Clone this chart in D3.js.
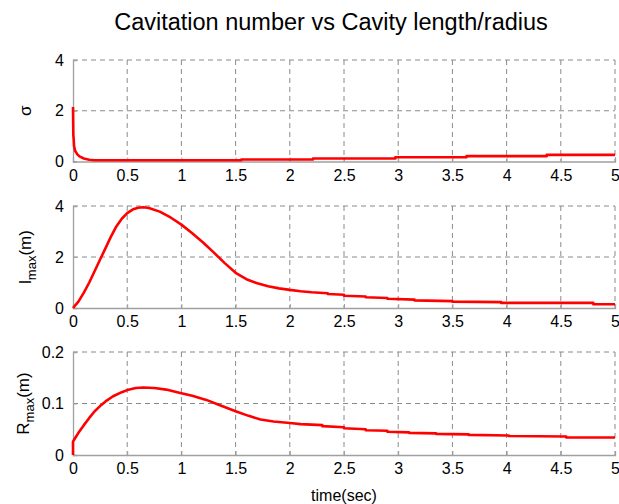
<!DOCTYPE html>
<html>
<head>
<meta charset="utf-8">
<script src="https://cdn.jsdelivr.net/npm/d3@7"></script>
<style>
  body { margin: 0; background: #fff; }
  svg { display: block; font-family: "Liberation Sans", Arial, Helvetica, sans-serif; }
</style>
</head>
<body>
<svg id="chart" width="619" height="504"></svg>
<script>
// Simulation time samples and results (stair steps repeat a time value)
const sigmaTime  = [0, 0.003, 0.006, 0.01, 0.02, 0.04, 0.06, 0.1, 0.15, 0.2, 1.553, 1.553, 2.214, 2.214, 2.974, 2.974, 3.63, 3.63, 4.37, 4.37, 5];
const sigmaValue = [2.15, 1.05, 0.9, 0.6, 0.42, 0.28, 0.2, 0.12, 0.07, 0.05, 0.05, 0.08, 0.08, 0.12, 0.12, 0.17, 0.17, 0.21, 0.21, 0.26, 0.26];

const lmaxTime  = [0, 0.05, 0.1, 0.15, 0.2, 0.25, 0.3, 0.35, 0.4, 0.45, 0.5, 0.55, 0.6, 0.65, 0.7, 0.8, 0.9, 1.0, 1.1, 1.2, 1.3, 1.4, 1.5, 1.6, 1.7, 1.8, 1.9, 2.0, 2.1, 2.2,
                   2.2, 2.35, 2.35, 2.5, 2.5, 2.7, 2.7, 2.9, 2.9, 3.15, 3.15, 3.5, 3.5, 3.95, 3.95, 4.8, 4.8, 5];
const lmaxValue = [0, 0.25, 0.6, 1.0, 1.45, 1.9, 2.35, 2.8, 3.2, 3.5, 3.72, 3.86, 3.93, 3.95, 3.92, 3.78, 3.55, 3.27, 2.93, 2.57, 2.17, 1.76, 1.38, 1.13, 0.97, 0.85, 0.77, 0.71, 0.66, 0.62,
                   0.62, 0.58, 0.55, 0.52, 0.48, 0.45, 0.42, 0.39, 0.36, 0.33, 0.3, 0.27, 0.25, 0.23, 0.2, 0.2, 0.15, 0.15];

const rmaxTime  = [0, 0, 0.02, 0.05, 0.1, 0.15, 0.2, 0.25, 0.3, 0.37, 0.45, 0.5, 0.58, 0.65, 0.75, 0.86, 0.98, 1.1, 1.23, 1.35, 1.5, 1.62, 1.73, 1.85, 2.0, 2.1,
                   2.1, 2.3, 2.3, 2.5, 2.5, 2.7, 2.7, 2.9, 2.9, 3.1, 3.1, 3.35, 3.35, 3.65, 3.65, 4.02, 4.02, 4.55, 4.55, 5];
const rmaxValue = [0, 0.026, 0.033, 0.043, 0.058, 0.072, 0.085, 0.095, 0.104, 0.114, 0.122, 0.126, 0.13, 0.131, 0.13, 0.127, 0.121, 0.115, 0.107, 0.097, 0.085, 0.076, 0.069, 0.065, 0.062, 0.06,
                   0.06, 0.058, 0.056, 0.054, 0.052, 0.05, 0.048, 0.047, 0.045, 0.044, 0.043, 0.042, 0.041, 0.04, 0.039, 0.038, 0.037, 0.036, 0.034, 0.034];

const xTicks = [0, 0.5, 1, 1.5, 2, 2.5, 3, 3.5, 4, 4.5, 5];
const xTickLabels = ["0", "0.5", "1", "1.5", "2", "2.5", "3", "3.5", "4", "4.5", "5"];
const sigmaTicks = [0, 2, 4];
const lmaxTicks  = [0, 2, 4];
const rmaxTicks  = [0, 0.1, 0.2];

const svg = d3.select("#chart");
const left = 73, right = 615;
const x = d3.scaleLinear().domain([0, 5]).range([left, right]);

const panels = [
  { t: sigmaTime, v: sigmaValue, ticks: sigmaTicks, domain: [0, 4],   top: 60,  bottom: 161.5, label: "sigma" },
  { t: lmaxTime,  v: lmaxValue,  ticks: lmaxTicks,  domain: [0, 4],   top: 206, bottom: 308,   label: "lmax" },
  { t: rmaxTime,  v: rmaxValue,  ticks: rmaxTicks,  domain: [0, 0.2], top: 352, bottom: 455,   label: "rmax" }
];

const gridColor = "#8a8a8a";
const axisColor = "#a0a0a0";
const tickFont = 16;

panels.forEach(p => {
  const y = d3.scaleLinear().domain(p.domain).range([p.bottom, p.top]);
  const g = svg.append("g");

  // dashed grid
  g.selectAll(".vgrid").data(xTicks.slice(1)).enter().append("line")
    .attr("x1", d => x(d)).attr("x2", d => x(d))
    .attr("y1", p.top).attr("y2", p.bottom)
    .attr("stroke", gridColor).attr("stroke-width", 1).attr("stroke-dasharray", "5,4");
  g.selectAll(".hgrid").data(p.ticks.slice(1)).enter().append("line")
    .attr("x1", left).attr("x2", right)
    .attr("y1", d => y(d)).attr("y2", d => y(d))
    .attr("stroke", gridColor).attr("stroke-width", 1).attr("stroke-dasharray", "5,4");

  // y axis
  const yAxis = d3.axisLeft(y).tickValues(p.ticks).tickSize(-4).tickPadding(9)
    .tickFormat(d => d3.format("~g")(d));
  const ya = g.append("g").attr("transform", `translate(${left},0)`).call(yAxis);
  ya.select(".domain").attr("stroke", axisColor).attr("stroke-width", 1.3);
  ya.selectAll(".tick line").attr("stroke", axisColor);
  ya.selectAll("text").attr("font-size", tickFont).attr("fill", "#000").attr("font-family", "Liberation Sans, Arial, sans-serif");

  // x axis
  const xAxis = d3.axisBottom(x).tickValues(xTicks).tickSize(-4).tickPadding(8)
    .tickFormat((d, i) => xTickLabels[i]);
  const xa = g.append("g").attr("transform", `translate(0,${p.bottom})`).call(xAxis);
  xa.select(".domain").attr("stroke", axisColor).attr("stroke-width", 1.3);
  xa.selectAll(".tick line").attr("stroke", axisColor);
  xa.selectAll("text").attr("font-size", tickFont).attr("fill", "#000").attr("font-family", "Liberation Sans, Arial, sans-serif");

  // data line
  const pts = p.t.map((t, i) => [t, p.v[i]]);
  g.append("path").datum(pts)
    .attr("fill", "none").attr("stroke", "#ff0000").attr("stroke-width", 2.6)
    .attr("stroke-linejoin", "round")
    .attr("d", d3.line().x(d => x(d[0])).y(d => y(d[1])));

  // y label
  const cy = (p.top + p.bottom) / 2;
  const lab = g.append("text")
    .attr("transform", `translate(${p.label === "rmax" ? 29 : 31},${cy}) rotate(-90)`)
    .attr("text-anchor", "middle").attr("font-size", 17).attr("fill", "#000");
  if (p.label === "sigma") {
    lab.text("σ");
  } else {
    lab.append("tspan").text(p.label === "lmax" ? "l" : "R");
    lab.append("tspan").attr("dy", 5).attr("font-size", 13).text("max");
    lab.append("tspan").attr("dy", -5).text("(m)");
  }
});

// title and x label
svg.append("text").attr("x", 331).attr("y", 30).attr("text-anchor", "middle")
  .attr("font-size", 23.5).attr("fill", "#000").text("Cavitation number vs Cavity length/radius");
svg.append("text").attr("x", 344).attr("y", 501).attr("text-anchor", "middle")
  .attr("font-size", 16).attr("fill", "#000").text("time(sec)");
</script>
</body>
</html>
